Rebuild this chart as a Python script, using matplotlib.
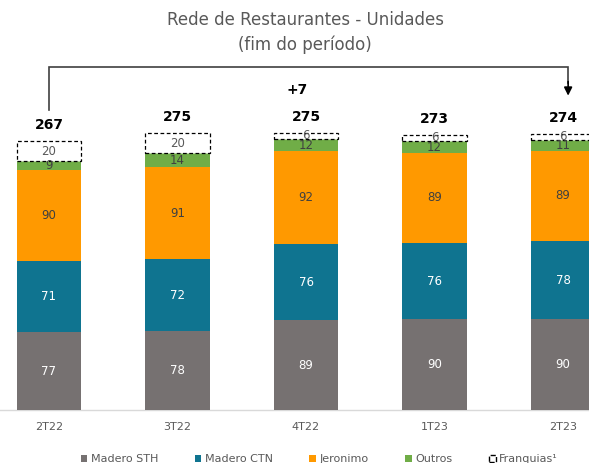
import matplotlib
matplotlib.use("Agg")
import matplotlib.pyplot as plt
from matplotlib.patches import Patch
import numpy as np

categories = ["2T22", "3T22", "4T22", "1T23", "2T23"]
madero_sth = [77, 78, 89, 90, 90]
madero_ctn = [71, 72, 76, 76, 78]
jeronimo = [90, 91, 92, 89, 89]
outros = [9, 14, 12, 12, 11]
franquias = [20, 20, 6, 6, 6]
totals = [267, 275, 275, 273, 274]
delta_label = "+7"

c_sth = "#767171"
c_ctn = "#0F7490"
c_jer = "#FF9900"
c_out = "#70AD47"
c_txt = "#404040"

fig = plt.figure(figsize=(5.89, 4.63), dpi=100)
px_per_unit = 1.0075
ax_bottom_px = 410
ylim_top = 400
ax_h_px = ylim_top * px_per_unit
ax = fig.add_axes([0, (463 - ax_bottom_px) / 463, 1, ax_h_px / 463])
ax.set_xlim(-49 / 128.5, (589 - 49) / 128.5)
ax.set_ylim(0, ylim_top)
ax.axis("off")

x = np.arange(len(categories))
w = 0.50
bottom = np.zeros(len(categories))
series = [
    (madero_sth, c_sth, "white", "solid"),
    (madero_ctn, c_ctn, "white", "solid"),
    (jeronimo, c_jer, c_txt, "solid"),
    (outros, c_out, c_txt, "solid"),
    (franquias, "white", "#595959", "dashed"),
]
for vals, col, tcol, style in series:
    vals = np.array(vals, dtype=float)
    if style == "dashed":
        ax.bar(x, vals, w, bottom=bottom, color="white", edgecolor="black",
               linestyle=(0, (3, 2)), linewidth=0.9, zorder=2)
    else:
        ax.bar(x, vals, w, bottom=bottom, color=col, edgecolor="none", zorder=2)
    for xi, b, v in zip(x, bottom, vals):
        ax.text(xi, b + v / 2, f"{int(v)}", ha="center", va="center",
                fontsize=8.5, color=tcol, zorder=3)
    bottom += vals

# baseline
ax.plot([-0.5, 4.5], [0, 0], color="#D9D9D9", lw=1, clip_on=False, zorder=1)

for xi, t in zip(x, totals):
    ax.text(xi, t + 16, str(t), ha="center", va="center", fontsize=10,
            fontweight="bold", color="black")

# bracket
ax.plot([0, 0, 4.04, 4.04], [298, 340, 340, 325], color="#404040", lw=1.2,
        solid_joinstyle="miter")
ax.annotate("", xy=(4.04, 312), xytext=(4.04, 326),
            arrowprops=dict(arrowstyle="-|>", color="black", lw=1.2,
                            mutation_scale=12, shrinkA=0, shrinkB=0))
ax.text(1.93, 318, delta_label, ha="center", va="center", fontsize=10,
        fontweight="bold", color="black")

for xi, c in zip(x, categories):
    ax.text(xi, -17, c, ha="center", va="center", fontsize=8, color="#595959")

fig.text(0.518, 1 - 20 / 463, "Rede de Restaurantes - Unidades", ha="center",
         va="center", fontsize=12, color="#595959")
fig.text(0.518, 1 - 45 / 463, "(fim do período)", ha="center", va="center",
         fontsize=12, color="#595959")

handles = [
    Patch(facecolor=c_sth, edgecolor="none", label="Madero STH"),
    Patch(facecolor=c_ctn, edgecolor="none", label="Madero CTN"),
    Patch(facecolor=c_jer, edgecolor="none", label="Jeronimo"),
    Patch(facecolor=c_out, edgecolor="none", label="Outros"),
    Patch(facecolor="white", edgecolor="black", linestyle="--", label="Franquias¹"),
]
leg = fig.legend(handles=handles, loc="center", bbox_to_anchor=(0.542, 0.008),
                 ncol=5, frameon=False, fontsize=8, handlelength=0.6,
                 handleheight=0.6, handletextpad=0.3, columnspacing=3.3,
                 labelcolor="#595959")

fig.savefig("out.png", dpi=100)
